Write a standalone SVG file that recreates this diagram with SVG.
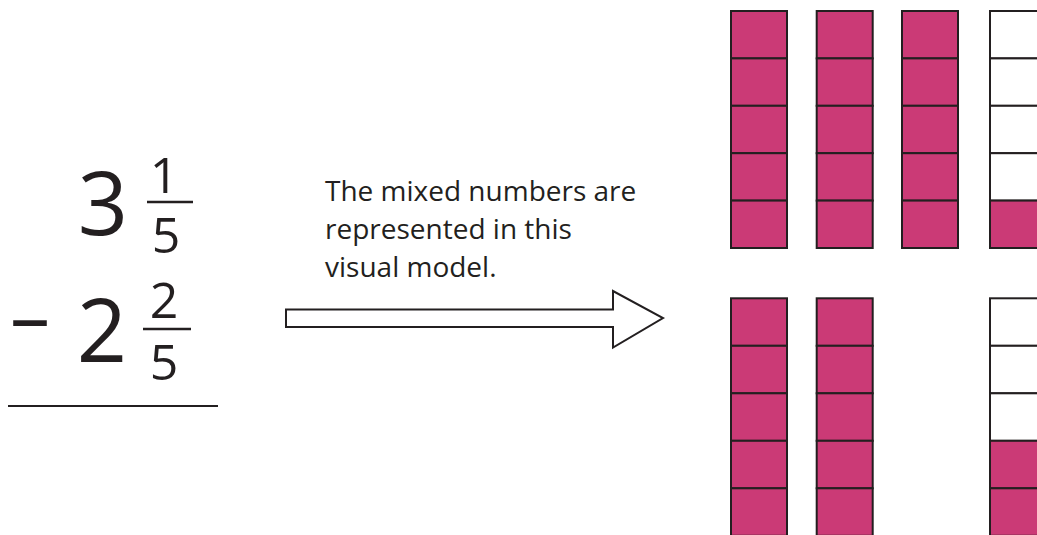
<svg xmlns="http://www.w3.org/2000/svg" width="1037" height="535" viewBox="0 0 1037 535">
<style>
.num{font-family:"Open Sans","Liberation Sans",sans-serif;fill:#231f20;text-anchor:middle}
.big{font-size:88px}
.sm{font-size:50px}
.lbl{font-family:"Open Sans","Liberation Sans",sans-serif;font-size:28px;fill:#231f20}
.bar{stroke:#231f20;stroke-width:2.5}
.p{fill:#cb3a76;stroke:#231f20;stroke-width:2}
.w{fill:#ffffff;stroke:#231f20;stroke-width:2}
</style>
<rect width="1037" height="535" fill="#ffffff"/>
<g id="problem">
<text class="num big" x="103" y="235">3</text>
<text class="num sm" x="164" y="193">1</text>
<line class="bar" x1="147" y1="202" x2="193" y2="202"/>
<text class="num sm" x="166" y="253">5</text>
<text class="num" x="30" y="345" style="font-size:80px">–</text>
<text class="num big" x="102" y="362">2</text>
<text class="num sm" x="164" y="318">2</text>
<line class="bar" x1="143" y1="329" x2="191" y2="329"/>
<text class="num sm" x="164" y="380">5</text>
<line class="bar" x1="8" y1="406" x2="218" y2="406" style="stroke-width:2"/>
</g>
<g id="caption">
<text class="lbl" x="325" y="201">The mixed numbers are</text>
<text class="lbl" x="325" y="239">represented in this</text>
<text class="lbl" x="325" y="277">visual model.</text>
</g>
<g id="connectors">
<path d="M286,309.5 H613 V291 L663,318 L613,347.5 V327 H286 Z" fill="#ffffff" stroke="#231f20" stroke-width="2" stroke-linejoin="miter"/>
</g>
<g id="top-model">
<g id="top-c1">
<rect class="p" x="731" y="11" width="56" height="47.4"/><rect class="p" x="731" y="58.4" width="56" height="47.4"/><rect class="p" x="731" y="105.8" width="56" height="47.4"/><rect class="p" x="731" y="153.2" width="56" height="47.4"/><rect class="p" x="731" y="200.6" width="56" height="47.4"/>
</g>
<g id="top-c2">
<rect class="p" x="816.7" y="11" width="56" height="47.4"/><rect class="p" x="816.7" y="58.4" width="56" height="47.4"/><rect class="p" x="816.7" y="105.8" width="56" height="47.4"/><rect class="p" x="816.7" y="153.2" width="56" height="47.4"/><rect class="p" x="816.7" y="200.6" width="56" height="47.4"/>
</g>
<g id="top-c3">
<rect class="p" x="902" y="11" width="56" height="47.4"/><rect class="p" x="902" y="58.4" width="56" height="47.4"/><rect class="p" x="902" y="105.8" width="56" height="47.4"/><rect class="p" x="902" y="153.2" width="56" height="47.4"/><rect class="p" x="902" y="200.6" width="56" height="47.4"/>
</g>
<g id="top-c4">
<rect class="w" x="990" y="11" width="56" height="47.4"/><rect class="w" x="990" y="58.4" width="56" height="47.4"/><rect class="w" x="990" y="105.8" width="56" height="47.4"/><rect class="w" x="990" y="153.2" width="56" height="47.4"/><rect class="p" x="990" y="200.6" width="56" height="47.4"/>
</g>
</g>
<g id="bottom-model">
<g id="bot-c1">
<rect class="p" x="731" y="298.3" width="56" height="47.5"/><rect class="p" x="731" y="345.8" width="56" height="47.5"/><rect class="p" x="731" y="393.3" width="56" height="47.5"/><rect class="p" x="731" y="440.8" width="56" height="47.5"/><rect class="p" x="731" y="488.3" width="56" height="47.5"/>
</g>
<g id="bot-c2">
<rect class="p" x="816.7" y="298.3" width="56" height="47.5"/><rect class="p" x="816.7" y="345.8" width="56" height="47.5"/><rect class="p" x="816.7" y="393.3" width="56" height="47.5"/><rect class="p" x="816.7" y="440.8" width="56" height="47.5"/><rect class="p" x="816.7" y="488.3" width="56" height="47.5"/>
</g>
<g id="bot-c4">
<rect class="w" x="990" y="298.3" width="56" height="47.5"/><rect class="w" x="990" y="345.8" width="56" height="47.5"/><rect class="w" x="990" y="393.3" width="56" height="47.5"/><rect class="p" x="990" y="440.8" width="56" height="47.5"/><rect class="p" x="990" y="488.3" width="56" height="47.5"/>
</g>
</g>
</svg>
